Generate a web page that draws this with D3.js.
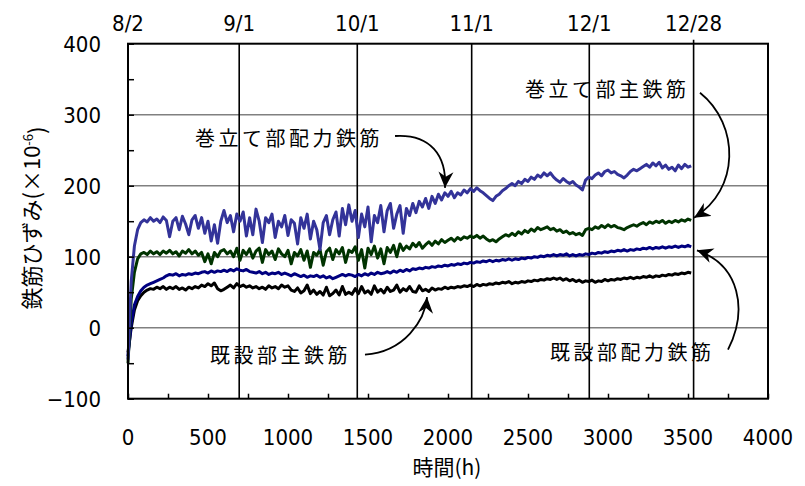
<!DOCTYPE html>
<html>
<head>
<meta charset="utf-8">
<script src="https://d3js.org/d3.v7.min.js"></script>
<style>
  body { margin: 0; background: #fff; }
  .num { font-family: "Liberation Sans Narrow", "DejaVu Sans Condensed", sans-serif; font-size: 22px; fill: #000; }
  .jp { font-family: "Noto Sans CJK JP", sans-serif; fill: #000; }
</style>
</head>
<body>
<script>
// logging interval of the records (h)
var STEP_H = 20;

// 巻立て部配力鉄筋
var makiHairyoku = [
  -45, 65, 115, 138, 148, 152, 149, 155, 150, 153,
  148, 156, 151, 128, 150, 155, 138, 157, 146, 131,
  152, 158, 140, 155, 133, 150, 122, 145, 119, 150,
  165, 148, 158, 135, 160, 150, 163, 129, 155, 131,
  167, 150, 120, 155, 148, 160, 127, 150, 142, 158,
  130, 152, 147, 118, 155, 140, 160, 125, 150, 138,
  110, 148, 158, 131, 152, 163, 129, 168, 145, 173,
  150, 165, 127, 160, 142, 170, 121, 158, 148, 172,
  135, 165, 175, 140, 160, 172, 133, 168, 158, 175,
  162, 178, 170, 182, 168, 185, 175, 188, 180, 190,
  185, 192, 183, 190, 187, 194, 190, 196, 192, 197,
  193, 190, 186, 182, 179, 185, 188, 193, 196, 200,
  203, 200, 206, 203, 209, 206, 212, 209, 215, 212,
  218, 214, 218, 212, 208, 205, 210, 206, 203, 206,
  201, 198, 194, 208, 212, 210, 215, 218, 214, 220,
  222, 218, 220, 216, 214, 211, 215, 220, 223, 221,
  224, 227, 230, 226, 232, 228, 233, 225, 229, 223,
  226, 221, 229, 224, 230, 226, 228
];

// 巻立て部主鉄筋
var makiShu = [
  -50, 40, 78, 97, 104, 106, 103, 108, 104, 107,
  103, 108, 105, 109, 104, 107, 101, 108, 105, 110,
  104, 108, 102, 106, 93, 104, 90, 106, 100, 108,
  110, 104, 108, 100, 112, 95, 109, 103, 111, 98,
  108, 112, 92, 110, 103, 108, 96, 111, 104, 100,
  109, 90, 106, 101, 110, 95, 108, 85, 106, 102,
  110, 88, 107, 112, 96, 110, 104, 113, 92, 109,
  106, 114, 95, 110, 84, 112, 103, 115, 98, 111,
  90, 113, 106, 116, 100, 118, 109, 115, 111, 119,
  114, 120, 112, 117, 121, 116, 122, 118, 124, 120,
  123, 126, 122, 127, 124, 128, 126, 129, 127, 130,
  126, 129, 125, 122, 124, 121, 125, 128, 131, 129,
  133, 130, 135, 132, 137, 134, 139, 136, 141, 138,
  140, 142, 138, 140, 136, 138, 134, 136, 132, 134,
  131, 133, 130, 138, 140, 138, 142, 140, 144, 141,
  145, 142, 144, 141, 140, 138, 141, 143, 145, 143,
  146, 148, 145, 149, 147, 150, 148, 151, 147, 150,
  148, 151, 149, 152, 150, 153, 151
];

// 既設部配力鉄筋
var kisetsuHairyoku = [
  -40, 5, 32, 44, 52, 57, 60, 62, 64, 66,
  68, 70, 73, 75, 74, 76, 73, 75, 74, 76,
  75, 77, 76, 78, 79, 77, 80, 78, 80, 79,
  81, 79, 82, 80, 83, 81, 80, 82, 79, 78,
  77, 79, 76, 78, 75, 77, 76, 78, 75, 77,
  75, 73, 76, 74, 72, 74, 71, 73, 72, 74,
  71, 73, 70, 72, 69, 71, 73, 75, 73, 75,
  74, 72, 75, 73, 76, 74, 77, 75, 78, 76,
  77, 79, 77, 80, 78, 81, 79, 82, 80, 83,
  82, 84, 83, 85, 84, 86, 85, 87, 86, 88,
  87, 89, 88, 90, 89, 91, 90, 92, 91, 93,
  92, 94, 93, 95, 93, 95, 94, 96, 95, 97,
  95, 97, 96, 98, 97, 99, 98, 100, 99, 101,
  100, 102, 101, 103, 101, 103, 102, 104, 101, 103,
  101, 103, 102, 104, 103, 105, 104, 106, 105, 107,
  106, 108, 107, 109, 108, 110, 108, 110, 109, 111,
  110, 112, 111, 113, 111, 113, 112, 114, 112, 114,
  113, 115, 113, 115, 114, 116, 114
];

// 既設部主鉄筋
var kisetsuShu = [
  -35, 0, 25, 38, 45, 50, 53, 55, 54, 57,
  55, 58, 54, 57, 55, 58, 54, 56, 53, 57,
  55, 58, 56, 60, 58, 62, 59, 63, 55, 52,
  54, 57, 60, 56, 62, 58, 60, 57, 59, 56,
  58, 55, 57, 54, 59, 56, 58, 55, 60, 57,
  59, 53, 51, 56, 49, 52, 60, 48, 53, 47,
  51, 46, 57, 45, 48, 53, 46, 58, 47, 50,
  47, 55, 48, 58, 49, 52, 47, 59, 50, 54,
  49, 57, 51, 53, 60, 50, 55, 52, 58, 51,
  50, 59, 52, 54, 51, 56, 53, 55, 54, 57,
  55, 57, 56, 58, 57, 59, 58, 60, 58, 61,
  59, 61, 60, 62, 61, 63, 62, 64, 63, 65,
  62, 64, 63, 65, 64, 66, 65, 67, 66, 68,
  67, 69, 68, 70, 68, 70, 67, 69, 66, 68,
  65, 67, 64, 66, 65, 67, 64, 66, 65, 68,
  66, 68, 67, 69, 68, 70, 69, 71, 69, 71,
  70, 72, 71, 73, 71, 73, 72, 74, 73, 75,
  74, 76, 75, 77, 76, 78, 77
];

var xTicks = [0, 500, 1000, 1500, 2000, 2500, 3000, 3500, 4000];
var yTicks = [-100, 0, 100, 200, 300, 400];
var dateLabels = ["8/2", "9/1", "10/1", "11/1", "12/1", "12/28"];
var dateHours = [0, 695, 1433, 2148, 2883, 3535];

var W = 805, H = 486;
var svg = d3.select("body").append("svg").attr("width", W).attr("height", H);

var x = d3.scaleLinear().domain([0, 4000]).range([128, 768]);
var y = d3.scaleLinear().domain([-100, 400]).range([398.7, 43.7]);

// horizontal grid
svg.append("g").selectAll("line")
  .data([0, 100, 200, 300])
  .enter().append("line")
  .attr("x1", x(0)).attr("x2", x(4000))
  .attr("y1", function(d) { return y(d); })
  .attr("y2", function(d) { return y(d); })
  .style("stroke", "#808080").style("stroke-width", 1.5);

// date lines
svg.append("g").selectAll("line")
  .data(dateHours.slice(1))
  .enter().append("line")
  .attr("x1", function(d) { return x(d); })
  .attr("x2", function(d) { return x(d); })
  .attr("y1", function(d, i) { return i === 4 ? y(400) - 4 : y(400); })
  .attr("y2", y(-100))
  .style("stroke", "#000").style("stroke-width", 1.6);

// series
var series = [
  { data: kisetsuShu, color: "#000000" },
  { data: kisetsuHairyoku, color: "#000080" },
  { data: makiShu, color: "#003300" },
  { data: makiHairyoku, color: "#333399" }
];
var line = d3.line()
  .x(function(d, i) { return x(i * STEP_H); })
  .y(function(d) { return y(d); });
svg.append("g").selectAll("path")
  .data(series)
  .enter().append("path")
  .attr("d", function(s) { return line(s.data); })
  .style("fill", "none")
  .style("stroke", function(s) { return s.color; })
  .style("stroke-width", 3)
  .style("stroke-linejoin", "round");

// frame
svg.append("rect")
  .attr("x", x(0)).attr("y", y(400))
  .attr("width", x(4000) - x(0)).attr("height", y(-100) - y(400))
  .style("fill", "none").style("stroke", "#000").style("stroke-width", 2);

// y ticks (inside)
var yAxis = d3.axisRight(y)
  .tickValues(d3.range(-100, 401, 50))
  .tickSize(6).tickFormat("");
svg.append("g").attr("transform", "translate(" + x(0) + ",0)").call(yAxis)
  .call(function(g) { g.select(".domain").remove(); })
  .selectAll("line").style("stroke-width", 1.5);

// x ticks (inside)
var xAxis = d3.axisTop(x)
  .tickValues(d3.range(0, 4001, 250))
  .tickSize(5).tickFormat("");
svg.append("g").attr("transform", "translate(0," + y(-100) + ")").call(xAxis)
  .call(function(g) { g.select(".domain").remove(); })
  .selectAll("line").style("stroke-width", 1.5);

// y labels
svg.append("g").selectAll("text")
  .data(yTicks)
  .enter().append("text")
  .attr("class", "num")
  .attr("x", 101)
  .attr("y", function(d) { return y(d); })
  .attr("dy", "0.36em")
  .attr("text-anchor", "end")
  .text(function(d) { return d < 0 ? "\u2212" + Math.abs(d) : d; });

// x labels
svg.append("g").selectAll("text")
  .data(xTicks)
  .enter().append("text")
  .attr("class", "num")
  .attr("x", function(d) { return x(d); })
  .attr("y", 445)
  .attr("text-anchor", "middle")
  .text(function(d) { return d; });

// date labels
svg.append("g").selectAll("text")
  .data(dateLabels)
  .enter().append("text")
  .attr("class", "num")
  .attr("x", function(d, i) { return x(dateHours[i]); })
  .attr("y", 31)
  .attr("text-anchor", "middle")
  .text(function(d) { return d; });

// axis titles
svg.append("text").attr("class", "jp")
  .attr("x", 447).attr("y", 475)
  .attr("text-anchor", "middle")
  .style("font-size", "21px")
  .text("時間(h)");

var yt = svg.append("text").attr("class", "jp")
  .attr("transform", "translate(40,218) rotate(-90)")
  .attr("text-anchor", "middle")
  .style("font-size", "22px");
yt.append("tspan").text("鉄筋ひずみ(×10");
yt.append("tspan").attr("dy", "-0.55em").style("font-size", "13px").text("-6");
yt.append("tspan").attr("dy", "0.55em").text(")");

// annotations: label position and arrow curve given in chart units (h, ×10^-6)
svg.append("defs").append("marker")
  .attr("id", "head")
  .attr("viewBox", "-16 -8 18 16")
  .attr("markerWidth", 18).attr("markerHeight", 16)
  .attr("markerUnits", "userSpaceOnUse")
  .attr("refX", 0).attr("refY", 0)
  .attr("orient", "auto")
  .append("path")
  .attr("d", "M0,0 L-16,-7.5 L-11,0 L-16,7.5 Z")
  .style("fill", "#000");

var notes = [
  { text: "巻立て部配力鉄筋", at: [419, 266], pts: [[1669, 270], [1888, 273], [1994, 243], [1981, 197]] },
  { text: "巻立て部主鉄筋", at: [2481, 335], pts: [[3575, 331], [3825, 286], [3825, 194], [3538, 155]] },
  { text: "既設部配力鉄筋", at: [2637, -36], pts: [[3750, -31], [3875, 25], [3825, 88], [3556, 109]] },
  { text: "既設部主鉄筋", at: [512, -40], pts: [[1481, -38], [1731, -34], [1856, 11], [1869, 43]] }
];

notes.forEach(function(n) {
  svg.append("text").attr("class", "jp")
    .attr("x", x(n.at[0])).attr("y", y(n.at[1]))
    .attr("dy", "0.36em")
    .style("font-size", "20px")
    .style("letter-spacing", "3.5px")
    .text(n.text);
  var p = d3.path();
  p.moveTo(x(n.pts[0][0]), y(n.pts[0][1]));
  p.bezierCurveTo(x(n.pts[1][0]), y(n.pts[1][1]),
                  x(n.pts[2][0]), y(n.pts[2][1]),
                  x(n.pts[3][0]), y(n.pts[3][1]));
  svg.append("path")
    .attr("d", p.toString())
    .style("fill", "none").style("stroke", "#000").style("stroke-width", 1.8)
    .attr("marker-end", "url(#head)");
});
</script>
</body>
</html>
